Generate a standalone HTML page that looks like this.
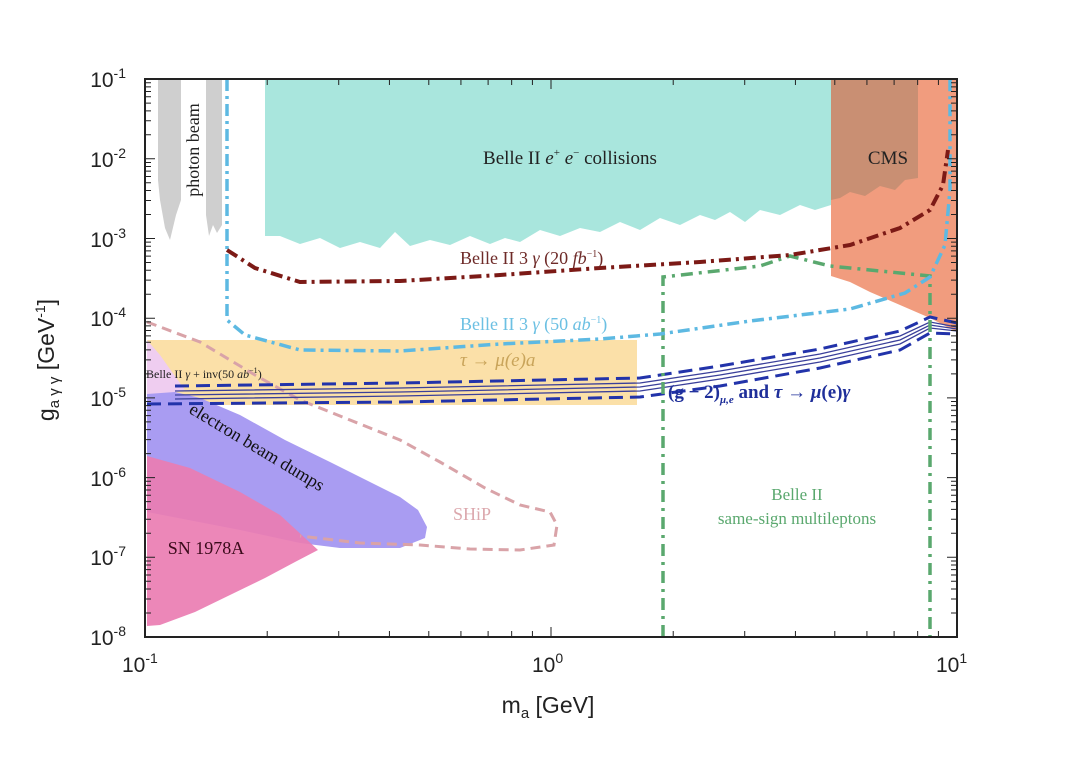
<!DOCTYPE html>
<html><head><meta charset="utf-8"><style>
body{margin:0;background:#fff;}
svg{display:block;font-family:"Liberation Serif",serif;}
.ax{font-family:"Liberation Sans",sans-serif;}
</style></head><body>
<svg id="s" width="1080" height="773" viewBox="0 0 1080 773" xmlns="http://www.w3.org/2000/svg">
<rect width="1080" height="773" fill="#fff"/>
<polygon points="158,79 181,79 181,200 176,215 170,240 165,228 160,200 158,180" fill="#cfcfcf"/>
<polygon points="206,79 222,79 222,225 217,233 213,225 209,236 206,215" fill="#cfcfcf"/>
<polygon points="265,79 831,79 831,205 815,210 800,205 780,215 760,210 745,222 730,212 715,220 700,215 680,225 660,218 640,230 620,222 600,232 580,228 560,236 540,230 520,242 505,238 490,244 470,236 450,245 430,240 410,246 395,232 380,248 360,242 340,248 320,238 300,244 280,236 265,236" fill="#a9e6dd"/>
<polygon points="831,79 957,79 957,332 930,318 900,305 870,292 850,282 831,276" fill="#f19c7e"/>
<polygon points="831,79 918,79 918,178 905,180 895,190 880,186 865,196 850,192 840,198 831,200" fill="#c98f73"/>
<rect x="147" y="340" width="490" height="65" fill="#fbe0a8"/>
<polygon points="147,340 147,398 185,390 172,372 160,355" fill="#efcdf0"/>
<polygon points="147,394 175,392 200,398 240,415 285,440 330,462 370,482 400,497 418,510 427,527 425,538 400,548 340,548 300,543 240,530 147,512" fill="#a99cf2"/>
<polygon points="147,456 190,468 240,492 280,515 318,550 295,562 265,578 230,595 195,612 160,625 147,626" fill="#ea7db2" opacity="0.92"/>
<polyline points="147,322 200,342 255,375 300,400 350,420 400,440 440,462 485,488 520,505 550,512 557,525 554,545 520,550 470,549 420,545 360,543 300,536" fill="none" stroke="#d9a3a8" stroke-width="3" stroke-dasharray="10,6"/>
<g fill="none" stroke="#3a3f9a" stroke-width="1.3">
<polyline points="175,391 400,388 640,383 720,371 820,354 900,336 930,322 957,327"/>
<polyline points="175,395 400,392 640,387 720,375 820,358 900,340 930,325 957,329"/>
<polyline points="175,399 400,396 640,391 720,379 820,362 900,344 930,328 957,331"/>
</g>
<polyline points="175,386 400,383 640,378 720,366 820,349 900,331 930,317 957,323" fill="none" stroke="#2233aa" stroke-width="3" stroke-dasharray="14,7"/>
<polyline points="147,404 400,402 640,397 720,386 820,368 900,350 930,333 957,334" fill="none" stroke="#2233aa" stroke-width="3" stroke-dasharray="14,7"/>
<polyline points="663,637 663,277 760,266 790,256 830,266 930,276 930,637" fill="none" stroke="#5aa86e" stroke-width="3.5" stroke-dasharray="12,6,3,6"/>
<polyline points="227,79 227,320 245,335 300,350 400,351 500,344 600,339 660,334 750,321 850,309 905,293 930,277 945,245 950,190 950,79" fill="none" stroke="#5db9e2" stroke-width="3.5" stroke-dasharray="12,5,3,5"/>
<polyline points="227,250 255,268 300,282 400,281 500,275 600,268 700,262 790,255 850,245 900,228 930,210 943,185 948,150" fill="none" stroke="#7c1a16" stroke-width="4" stroke-dasharray="12,5,3,5"/>
<rect x="145" y="79" width="812" height="558" fill="none" stroke="#222" stroke-width="2"/>
<g id="ticks" stroke="#222" stroke-width="1"></g>
<text x="570" y="164" font-size="19" text-anchor="middle" fill="#222">Belle II <tspan font-style="italic">e</tspan><tspan font-size="11" dy="-8">+</tspan><tspan dy="8"> </tspan><tspan font-style="italic">e</tspan><tspan font-size="11" dy="-8">−</tspan><tspan dy="8"> collisions</tspan></text>
<text x="888" y="164" font-size="19" text-anchor="middle" fill="#222">CMS</text>
<text transform="translate(199,150) rotate(-90)" font-size="18" text-anchor="middle" fill="#222">photon beam</text>
<text x="460" y="264" font-size="18" fill="#6e2a28">Belle II 3 <tspan font-style="italic">γ</tspan> (20 <tspan font-style="italic">fb</tspan><tspan font-size="10" dy="-7">−1</tspan><tspan dy="7">)</tspan></text>
<text x="460" y="330" font-size="18" fill="#6cc0e3">Belle II 3 <tspan font-style="italic">γ</tspan> (50 <tspan font-style="italic">ab</tspan><tspan font-size="10" dy="-7">−1</tspan><tspan dy="7">)</tspan></text>
<text x="460" y="366" font-size="19" font-style="italic" fill="#c9a45a">τ → μ(e)a</text>
<text x="146" y="378" font-size="12" fill="#222">Belle II <tspan font-style="italic">γ</tspan> + inv(50 <tspan font-style="italic">ab</tspan><tspan font-size="8" dy="-5">−1</tspan><tspan dy="5">)</tspan></text>
<text x="668" y="398" font-size="19" font-weight="bold" fill="#1f2f9a">(g − 2)<tspan font-size="11" dy="5" font-style="italic">μ,e</tspan><tspan dy="-5"> and </tspan><tspan font-style="italic">τ</tspan> → <tspan font-style="italic">μ</tspan>(e)<tspan font-style="italic">γ</tspan></text>
<text transform="translate(254,452) rotate(31)" font-size="18" text-anchor="middle" fill="#111">electron beam dumps</text>
<text x="472" y="520" font-size="18" text-anchor="middle" fill="#dca8ad">SHiP</text>
<text x="206" y="554" font-size="18" text-anchor="middle" fill="#3a0a1a">SN 1978A</text>
<text x="797" y="500" font-size="17" text-anchor="middle" fill="#5aa86e">Belle II</text>
<text x="797" y="524" font-size="17" text-anchor="middle" fill="#5aa86e">same-sign multileptons</text>
<g class="ax" font-size="21" fill="#222" text-anchor="end">
<text x="126" y="87">10<tspan font-size="14" dy="-9">-1</tspan></text>
<text x="126" y="167">10<tspan font-size="14" dy="-9">-2</tspan></text>
<text x="126" y="247">10<tspan font-size="14" dy="-9">-3</tspan></text>
<text x="126" y="326">10<tspan font-size="14" dy="-9">-4</tspan></text>
<text x="126" y="406">10<tspan font-size="14" dy="-9">-5</tspan></text>
<text x="126" y="486">10<tspan font-size="14" dy="-9">-6</tspan></text>
<text x="126" y="565">10<tspan font-size="14" dy="-9">-7</tspan></text>
<text x="126" y="645">10<tspan font-size="14" dy="-9">-8</tspan></text>
</g>
<g class="ax" font-size="21" fill="#222">
<text x="122" y="672">10<tspan font-size="14" dy="-9">-1</tspan></text>
<text x="532" y="672">10<tspan font-size="14" dy="-9">0</tspan></text>
<text x="936" y="672">10<tspan font-size="14" dy="-9">1</tspan></text>
<text x="548" y="713" text-anchor="middle" font-size="23">m<tspan font-size="15" dy="5">a</tspan><tspan dy="-5"> [GeV]</tspan></text>
<text transform="translate(54,360) rotate(-90)" text-anchor="middle" font-size="23">g<tspan font-size="15" dy="5">a γ γ</tspan><tspan dy="-5"> [GeV</tspan><tspan font-size="14" dy="-9">-1</tspan><tspan dy="9">]</tspan></text>
</g>
</svg>
<script>
var g=document.getElementById('ticks'),ns='http://www.w3.org/2000/svg',d='';
function L(x1,y1,x2,y2){d+='M'+x1+' '+y1+'L'+x2+' '+y2;}
var X0=145,XD=406,Y0=637,YD=79.7;
for(var e=0;e<2;e++)for(var k=1;k<=10;k++){var x=X0+XD*(e+Math.log10(k));var l=(k==1||k==10)?10:6;L(x,637,x,637-l);L(x,79,x,79+l);}
for(var e=0;e<7;e++)for(var k=1;k<=10;k++){var y=Y0-YD*(e+Math.log10(k));var l=(k==1||k==10)?10:6;L(145,y,145+l,y);L(957,y,957-l,y);}
var p=document.createElementNS(ns,'path');p.setAttribute('d',d);g.appendChild(p);
</script>
</body></html>
